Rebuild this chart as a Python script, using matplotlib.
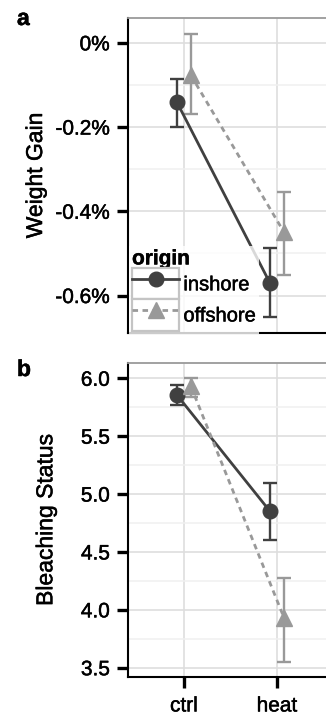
import matplotlib
matplotlib.use("Agg")
import matplotlib.pyplot as plt
import matplotlib.patheffects as pe
from matplotlib.patches import Rectangle
from matplotlib.text import Text
from matplotlib.ticker import FuncFormatter, MultipleLocator

plt.rcParams['font.family'] = ['Liberation Sans', 'DejaVu Sans']

treatments = ["ctrl", "heat"]
origins = ["inshore", "offshore"]

# weight gain (%), mean with lower/upper error limits
weight_mean = {"inshore": [-0.141, -0.571], "offshore": [-0.077, -0.450]}
weight_low = {"inshore": [-0.199, -0.652], "offshore": [-0.169, -0.551]}
weight_high = {"inshore": [-0.086, -0.488], "offshore": [0.021, -0.355]}

# bleaching status score
bleach_mean = {"inshore": [5.856, 4.85], "offshore": [5.93, 3.93]}
bleach_low = {"inshore": [5.77, 4.605], "offshore": [5.84, 3.55]}
bleach_high = {"inshore": [5.94, 5.095], "offshore": [6.005, 4.275]}

colors = {"inshore": "#404040", "offshore": "#999999"}
markers = {"inshore": "o", "offshore": "^"}
msizes = {"inshore": 10.5, "offshore": 12}
styles = {"inshore": "-", "offshore": (0, (2.0, 1.6))}
dodge = {"inshore": -0.075, "offshore": 0.075}

fig = plt.figure(figsize=(3.26, 7.15), dpi=100)
ax_a = fig.add_axes([128 / 326, 1 - 333 / 715, 205 / 326, 315 / 715])
ax_b = fig.add_axes([128 / 326, 1 - 677 / 715, 205 / 326, 314 / 715])


def style_axes(ax):
    ax.set_xlim(0.4, 2.6)
    ax.set_xticks([1, 2])
    ax.grid(True, which="major", color="#dedede", lw=1.2, zorder=0)
    ax.grid(True, which="minor", axis="y", color="#f0f0f0", lw=1.1, zorder=0)
    ax.set_axisbelow(True)
    for side in ["top", "right"]:
        ax.spines[side].set_color("#9a9a9a")
        ax.spines[side].set_linewidth(1.3)
    for side in ["left", "bottom"]:
        ax.spines[side].set_color("black")
        ax.spines[side].set_linewidth(1.5)
    ax.tick_params(axis="both", which="major", length=8, width=2.4,
                   color="black", labelsize=15, pad=5)
    ax.tick_params(axis="y", which="minor", length=0)


def draw_panel(ax, mean, low, high):
    handles = {}
    for org in origins:
        xs = [i + 1 + dodge[org] for i in range(len(treatments))]
        ys = mean[org]
        err = [[m - l for m, l in zip(mean[org], low[org])],
               [h - m for m, h in zip(mean[org], high[org])]]
        ax.errorbar(xs, ys, yerr=err, fmt="none", ecolor=colors[org],
                    elinewidth=1.7, capsize=5, capthick=1.7, zorder=3)
        line, = ax.plot(xs, ys, color=colors[org], lw=2.0,
                        linestyle=styles[org], marker=markers[org],
                        markersize=msizes[org], zorder=4)
        handles[org] = line
    return handles


# panel a: weight gain
style_axes(ax_a)
handles = draw_panel(ax_a, weight_mean, weight_low, weight_high)
ax_a.set_ylim(-0.689, 0.059)
ax_a.yaxis.set_major_locator(MultipleLocator(0.2))
ax_a.yaxis.set_minor_locator(MultipleLocator(0.1))
ax_a.yaxis.set_major_formatter(
    FuncFormatter(lambda v, p: "0%" if abs(v) < 1e-9 else f"{v:.1f}%"))
ax_a.set_xticklabels([])
ax_a.tick_params(axis="x", length=0)
ax_a.set_ylabel("Weight Gain", fontsize=16.5)
ax_a.yaxis.set_label_coords(-0.395, 0.5)

key_boxes = [Rectangle((0, 0), 1, 1, facecolor="white", edgecolor="#c4c4c4",
                       lw=1.6) for _ in origins]
leg = ax_a.legend([(key_boxes[i], handles[o]) for i, o in enumerate(origins)],
                  origins, title="origin", loc="lower left",
                  bbox_to_anchor=(0.005, -0.002), borderaxespad=0,
                  borderpad=0.15, labelspacing=0.0, handlelength=2.35,
                  handleheight=2.0, handletextpad=0.2, fontsize=14.5,
                  title_fontsize=15, frameon=True, fancybox=False,
                  alignment="left")
leg.get_frame().set_edgecolor("none")
leg.get_frame().set_facecolor("white")
leg.get_title().set_fontweight("bold")

# panel b: bleaching status
style_axes(ax_b)
draw_panel(ax_b, bleach_mean, bleach_low, bleach_high)
ax_b.set_ylim(3.42, 6.132)
ax_b.yaxis.set_major_locator(MultipleLocator(0.5))
ax_b.yaxis.set_minor_locator(MultipleLocator(0.25))
ax_b.yaxis.set_major_formatter(FuncFormatter(lambda v, p: f"{v:.1f}"))
ax_b.set_xticklabels(treatments)
ax_b.tick_params(axis="x", pad=6)
ax_b.set_ylabel("Bleaching Status", fontsize=16.5)
ax_b.yaxis.set_label_coords(-0.345, 0.5)

fig.text(17 / 326, 1 - 25 / 715, "a", fontsize=16.5, fontweight="bold")
fig.text(17 / 326, 1 - 376 / 715, "b", fontsize=16.5, fontweight="bold")

# slightly heavier glyphs for all labels
fig.canvas.draw()
for t in fig.findobj(Text):
    t.set_path_effects([pe.withStroke(linewidth=0.35, foreground=t.get_color())])

fig.savefig("out.png", dpi=100)
